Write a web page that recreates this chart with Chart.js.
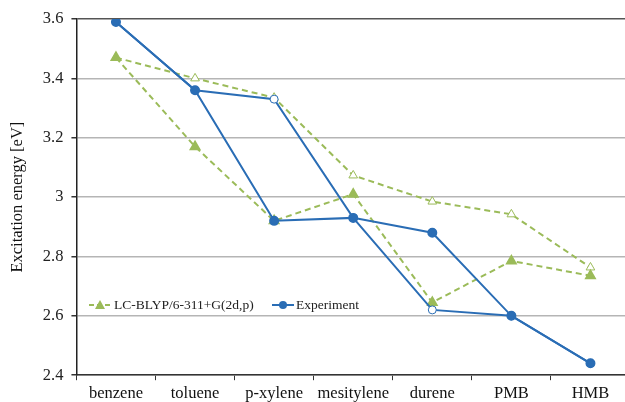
<!DOCTYPE html>
<html>
<head>
<meta charset="utf-8">
<script src="https://cdn.jsdelivr.net/npm/chart.js@4/dist/chart.umd.min.js"></script>
<style>
  html, body { margin: 0; padding: 0; background: #fff; overflow: hidden; }
  #wrap { width: 637px; height: 408px; }
</style>
</head>
<body>
<div id="wrap"><canvas id="chart-area"></canvas></div>
<script>
var molecules = ['benzene', 'toluene', 'p-xylene', 'mesitylene', 'durene', 'PMB', 'HMB'];

// experimental values, two branches (filled / open markers)
var expFilled = [3.59, 3.36, 2.92, 2.93, 2.88, 2.60, 2.44];
var expOpen   = [3.59, 3.36, 3.33, 2.93, 2.62, 2.60, 2.44];

// LC-BLYP/6-311+G(2d,p) values
var calcFilled = [3.47, 3.17, 2.92, 3.01, 2.645, 2.785, 2.735];
var calcOpen   = [3.47, 3.40, 3.335, 3.073, 2.985, 2.942, 2.763];

var yTicks = [2.4, 2.6, 2.8, 3, 3.2, 3.4, 3.6];

var BLUE = '#2a6db5';
var GREEN = '#9bbb59';
var SERIF = '"Liberation Serif", "Times New Roman", serif';

// legend sits inside the plot area
var insideLegend = {
  id: 'insideLegend',
  afterDatasetsDraw: function (chart) {
    var c = chart.ctx;
    var y = 305;
    c.save();
    c.font = '13.5px ' + SERIF;
    c.textBaseline = 'middle';

    // calc entry
    c.strokeStyle = GREEN;
    c.lineWidth = 2;
    c.setLineDash([5, 3]);
    c.beginPath(); c.moveTo(89, y); c.lineTo(111, y); c.stroke();
    c.setLineDash([]);
    c.fillStyle = GREEN;
    c.beginPath(); c.moveTo(100, y - 5); c.lineTo(105, y + 4); c.lineTo(95, y + 4); c.closePath(); c.fill();
    c.fillStyle = '#222';
    c.fillText('LC-BLYP/6-311+G(2d,p)', 114, y);

    // experiment entry
    c.strokeStyle = BLUE;
    c.beginPath(); c.moveTo(272, y); c.lineTo(294, y); c.stroke();
    c.fillStyle = BLUE;
    c.beginPath(); c.arc(283, y, 4, 0, Math.PI * 2); c.fill();
    c.fillStyle = '#222';
    c.fillText('Experiment', 296, y);
    c.restore();
  }
};

var config = {
  type: 'line',
  data: {
    labels: molecules,
    datasets: [{
      label: 'Experiment',
      data: expFilled,
      borderColor: BLUE,
      backgroundColor: BLUE,
      pointBackgroundColor: BLUE,
      pointBorderColor: BLUE,
      borderWidth: 2,
      pointRadius: 4,
      pointStyle: 'circle',
      tension: 0
    }, {
      label: 'Experiment (open)',
      data: expOpen,
      borderColor: BLUE,
      pointBackgroundColor: '#fff',
      pointBorderColor: BLUE,
      pointBorderWidth: 1,
      borderWidth: 2,
      pointRadius: 4,
      pointStyle: 'circle',
      tension: 0
    }, {
      label: 'LC-BLYP/6-311+G(2d,p)',
      data: calcFilled,
      borderColor: GREEN,
      backgroundColor: GREEN,
      pointBackgroundColor: GREEN,
      pointBorderColor: GREEN,
      borderWidth: 2,
      borderDash: [6, 4],
      pointRadius: 5,
      pointStyle: 'triangle',
      tension: 0
    }, {
      label: 'LC-BLYP (open)',
      data: calcOpen,
      borderColor: GREEN,
      pointBackgroundColor: '#fff',
      pointBorderColor: GREEN,
      pointBorderWidth: 1,
      borderWidth: 2,
      borderDash: [6, 4],
      pointRadius: 5,
      pointStyle: 'triangle',
      tension: 0
    }]
  },
  options: {
    responsive: true,
    maintainAspectRatio: false,
    animation: false,
    layout: { padding: { top: 19, right: 0, left: 8, bottom: 0 } },
    plugins: {
      legend: { display: false },
      tooltip: { enabled: false }
    },
    scales: {
      x: {
        offset: true,
        grid: { offset: true, drawOnChartArea: false, drawTicks: true, tickLength: 5, tickColor: '#333' },
        border: { color: '#333', width: 1.5 },
        ticks: { color: '#111', padding: 4, font: { family: SERIF, size: 16.5 } }
      },
      y: {
        min: 2.4,
        max: 3.6,
        afterBuildTicks: function (axis) {
          axis.ticks = yTicks.map(function (v) { return { value: v }; });
        },
        grid: {
          color: function (ctx) { return ctx.tick && ctx.tick.value === 3.6 ? '#555' : '#b5b5b5'; },
          lineWidth: 1.5,
          tickLength: 5,
          tickColor: '#333'
        },
        border: { color: '#222', width: 1.5 },
        ticks: {
          color: '#222',
          padding: 8,
          font: { family: SERIF, size: 16.5 },
          callback: function (v) { return String(Number(v.toFixed(1))); }
        },
        title: {
          display: true,
          text: 'Excitation energy [eV]',
          color: '#111',
          font: { family: SERIF, size: 16.5 },
          padding: { top: 0, bottom: 7 }
        }
      }
    }
  },
  plugins: [insideLegend]
};

window.onload = function () {
  var ctx = document.getElementById('chart-area').getContext('2d');
  window.myChart = new Chart(ctx, config);
};
</script>
</body>
</html>
